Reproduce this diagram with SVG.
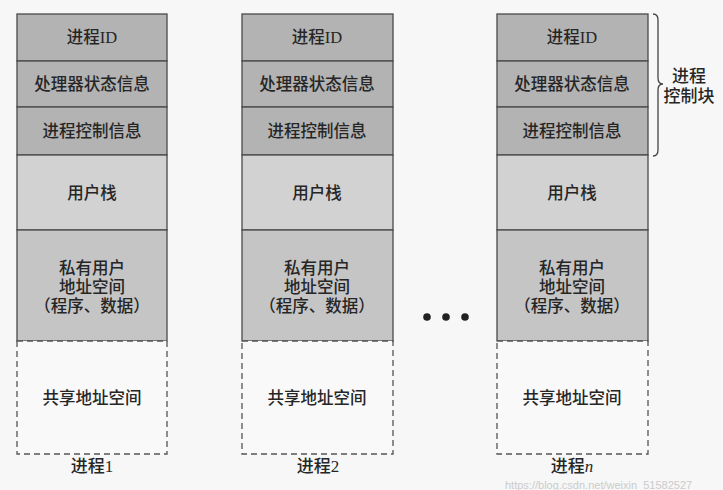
<svg xmlns="http://www.w3.org/2000/svg" width="723" height="490" viewBox="0 0 723 490">
<style>
.bg{fill:#f7f7f7}
.pcb{fill:#b3b3b3;stroke:#4a4a4a;stroke-width:1.3}
.stack{fill:#d2d2d2;stroke:#4a4a4a;stroke-width:1.3}
.priv{fill:#c5c5c5;stroke:#4a4a4a;stroke-width:1.3}
.shared{fill:#f9f9f9;stroke:#555;stroke-width:1.3;stroke-dasharray:6 4}
text{font-family:"Liberation Serif","Noto Sans CJK SC",serif;font-size:16.5px;font-weight:500;fill:#262626;text-anchor:middle}
.lbl{font-size:17px}
.wm{font-family:"Liberation Sans",sans-serif;font-size:11px;font-weight:400;fill:#cbcbcb;text-anchor:start}
</style>
<rect class="bg" x="0" y="0" width="723" height="490"/>
<g id="process1">
<rect class="pcb" x="17" y="14" width="150" height="47"/>
<text x="92" y="43">进程ID</text>
<rect class="pcb" x="17" y="61" width="150" height="46"/>
<text x="92" y="90">处理器状态信息</text>
<rect class="pcb" x="17" y="107" width="150" height="48"/>
<text x="92" y="137">进程控制信息</text>
<rect class="stack" x="17" y="155" width="150" height="75"/>
<text x="92" y="199">用户栈</text>
<rect class="priv" x="17" y="230" width="150" height="111"/>
<text x="92" y="274">私有用户</text>
<text x="92" y="293">地址空间</text>
<text x="92" y="312">（程序、数据）</text>
<rect class="shared" x="17" y="341" width="150" height="113"/>
<text x="92" y="404">共享地址空间</text>
<text class="lbl" x="92" y="472">进程1</text>
</g>
<g id="process2">
<rect class="pcb" x="242" y="14" width="151" height="47"/>
<text x="317" y="43">进程ID</text>
<rect class="pcb" x="242" y="61" width="151" height="46"/>
<text x="317" y="90">处理器状态信息</text>
<rect class="pcb" x="242" y="107" width="151" height="48"/>
<text x="317" y="137">进程控制信息</text>
<rect class="stack" x="242" y="155" width="151" height="75"/>
<text x="317" y="199">用户栈</text>
<rect class="priv" x="242" y="230" width="151" height="111"/>
<text x="317" y="274">私有用户</text>
<text x="317" y="293">地址空间</text>
<text x="317" y="312">（程序、数据）</text>
<rect class="shared" x="242" y="341" width="151" height="113"/>
<text x="317" y="404">共享地址空间</text>
<text class="lbl" x="318" y="472">进程2</text>
</g>
<g id="dots" fill="#222">
<circle cx="427" cy="317" r="3.8"/>
<circle cx="446" cy="317" r="3.8"/>
<circle cx="465" cy="317" r="3.8"/>
</g>
<g id="processn">
<rect class="pcb" x="497" y="14" width="151" height="47"/>
<text x="572" y="43">进程ID</text>
<rect class="pcb" x="497" y="61" width="151" height="46"/>
<text x="572" y="90">处理器状态信息</text>
<rect class="pcb" x="497" y="107" width="151" height="48"/>
<text x="572" y="137">进程控制信息</text>
<rect class="stack" x="497" y="155" width="151" height="75"/>
<text x="572" y="199">用户栈</text>
<rect class="priv" x="497" y="230" width="151" height="111"/>
<text x="572" y="274">私有用户</text>
<text x="572" y="293">地址空间</text>
<text x="572" y="312">（程序、数据）</text>
<rect class="shared" x="497" y="341" width="151" height="113"/>
<text x="572" y="404">共享地址空间</text>
<text class="lbl" x="572" y="472">进程<tspan font-style="italic" font-family="Liberation Serif">n</tspan></text>
</g>
<g id="connectors">
<path d="M653,14 Q658,14 658,20 L658,78 Q658,84 663,84 Q658,84 658,90 L658,150 Q658,156 653,156" fill="none" stroke="#444" stroke-width="1.3"/>
</g>
<g id="pcb-label">
<text class="lbl" x="689" y="82">进程</text>
<text class="lbl" x="689" y="102">控制块</text>
</g>
<text class="wm" x="505" y="489">https://blog.csdn.net/weixin_51582527</text>
</svg>
